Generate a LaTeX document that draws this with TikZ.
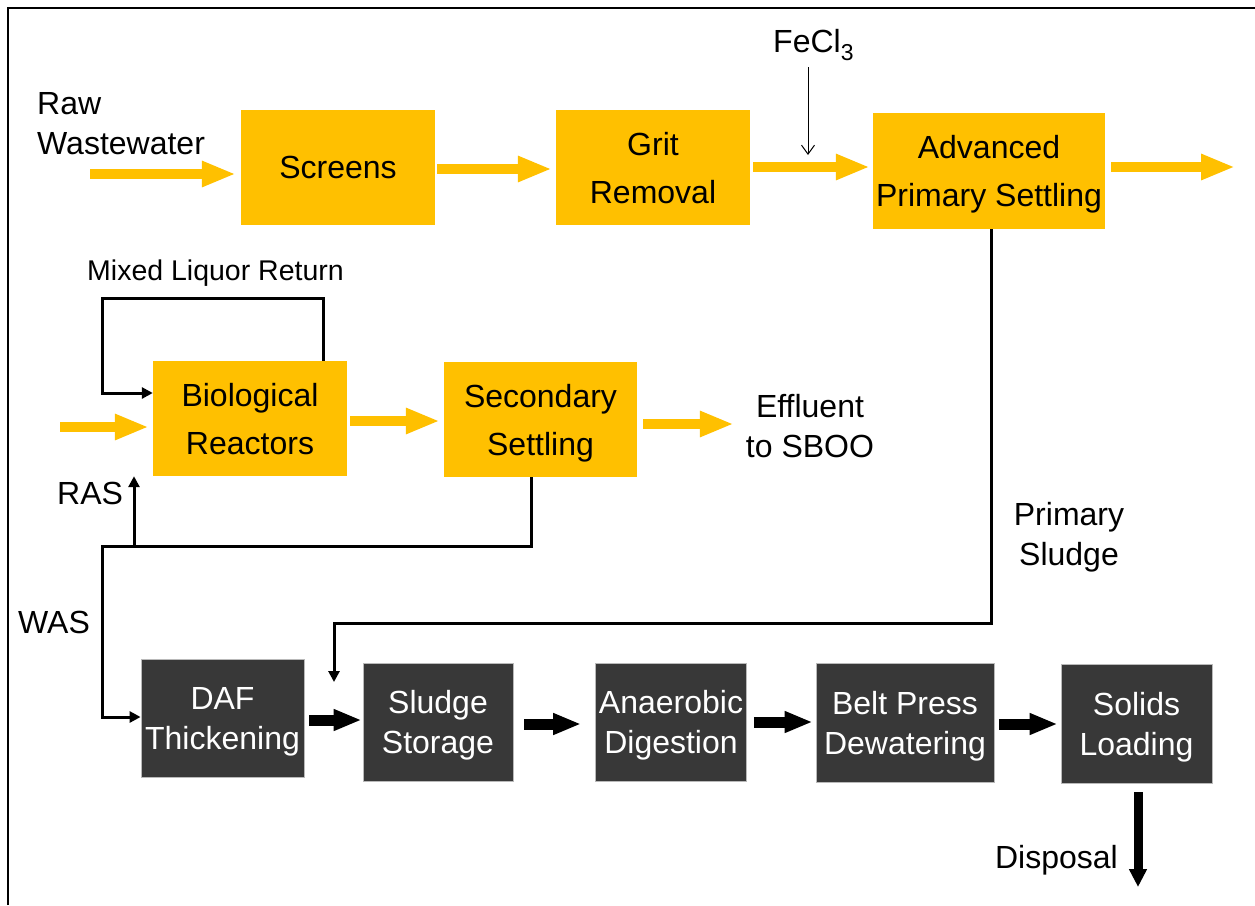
\documentclass[tikz,border=0pt]{standalone}
\usepackage{fontspec}
\setmainfont{Liberation Sans}
\usetikzlibrary{arrows.meta}
\definecolor{ygold}{HTML}{FFC000}
\definecolor{dgray}{HTML}{383838}
\begin{document}
\begin{tikzpicture}[x=1pt,y=-1pt,font=\fontsize{32}{40}\selectfont,
  ybox/.style={fill=ygold, inner sep=0pt, align=center, text depth=0pt, font=\fontsize{32}{48}\selectfont},
  dbox/.style={fill=dgray, draw=gray!55, line width=0.8pt, text=white, inner sep=0pt, align=center, text depth=0pt},
  txt/.style={inner sep=0pt},
  yarrow/.style={draw=ygold, line width=10pt, -{Triangle[length=34pt,width=24pt]}},
  barrow/.style={draw=black, line width=11pt, -{Triangle[length=28pt,width=20pt]}},
  tline/.style={draw=black, line width=3pt, -{Triangle[length=11pt,width=11pt]}},
  thinarrow/.style={draw=black, line width=1pt, -{Straight Barb[length=9pt,width=13pt]}}
]
\useasboundingbox (0,0) rectangle (1255,905);
% frame
\draw[line width=2.8pt] (8,905) -- (8,8) -- (1255,8);

% boxes
\node[ybox, minimum width=194pt, minimum height=115pt] (scr) at (338,167.5) {Screens};
\node[ybox, minimum width=194pt, minimum height=115pt] (grit) at (653,167.5) {Grit\\Removal};
\node[ybox, minimum width=232pt, minimum height=116pt] (aps) at (989,171) {Advanced\\Primary Settling};
\node[ybox, minimum width=194pt, minimum height=115pt] (bio) at (250,418.5) {Biological\\Reactors};
\node[ybox, minimum width=193pt, minimum height=115pt] (sec) at (540.5,419.5) {Secondary\\Settling};

\node[dbox, minimum width=163pt, minimum height=118pt] (daf) at (222.5,718) {DAF\\Thickening};
\node[dbox, minimum width=150pt, minimum height=118pt] (ss) at (438,722) {Sludge\\Storage};
\node[dbox, minimum width=151pt, minimum height=118pt] (ad) at (671,722) {Anaerobic\\Digestion};
\node[dbox, minimum width=178pt, minimum height=119pt] (bp) at (905,722.5) {Belt Press\\Dewatering};
\node[dbox, minimum width=151pt, minimum height=119pt] (sl) at (1136.5,723.5) {Solids\\Loading};

% labels
\node[txt, align=left, anchor=west] (raw) at (37,123.5) {Raw\\Wastewater};
\node[txt, anchor=base west, font=\fontsize{28.5}{34}\selectfont] (mlr) at (87,280) {Mixed Liquor Return};
\node[txt, anchor=base west] (fecl) at (773,52) {FeCl\raisebox{-8pt}{\fontsize{23}{23}\selectfont 3}};
\node[txt, align=center] (eff) at (810,426) {Effluent\\to SBOO};
\node[txt, align=center] (psl) at (1069,537) {Primary\\Sludge};
\node[txt, anchor=base west] (ras) at (57,504) {RAS};
\node[txt, anchor=base west] (was) at (18,633) {WAS};
\node[txt, anchor=base east] (disp) at (1118,868) {Disposal};

% coordinates
\coordinate (rawin) at (90,174);
\coordinate (apsout) at (1235,167);
\coordinate (bioin) at (60,427);
\coordinate (fetop) at (808,67);
\coordinate (fetip) at (808,155);
\coordinate (mlr1) at (323,298);
\coordinate (mlr2) at (102,298);
\coordinate (mlr3) at (102,393);
\coordinate (ret) at (531,546);
\coordinate (wasc) at (102,546);
\coordinate (was2) at (102,717);
\coordinate (rasc) at (134,546);
\coordinate (ps1) at (991,623);
\coordinate (ps2) at (334,623);
\coordinate (ps3) at (334,682);
\coordinate (dispend) at (1138,887);

% yellow flow arrows
\draw[yarrow, shorten >=5pt] (rawin) -- (rawin -| scr.west);
\draw[yarrow, shorten <=2pt, shorten >=4pt] (scr.east |- 0,169) -- (grit.west |- 0,169);
\draw[yarrow, shorten <=3pt, shorten >=3pt] (grit.east |- 0,167) -- (aps.west |- 0,167);
\draw[yarrow, shorten <=6pt] (aps.east |- apsout) -- (apsout);
\draw[yarrow, shorten >=4pt] (bioin) -- (bioin -| bio.west);
\draw[yarrow, shorten <=3pt, shorten >=4pt] (bio.east |- 0,421) -- (sec.west |- 0,421);
\draw[yarrow, shorten <=6pt, shorten >=12pt] (sec.east |- 0,424) -- (eff.west |- 0,424);

% FeCl3 dosing
\draw[thinarrow] (fetop) -- (fetip);

% black sludge arrows
\draw[barrow, shorten <=5pt, shorten >=1pt] (daf.east |- 0,720) -- (ss.west |- 0,720);
\draw[barrow, shorten <=11pt, shorten >=14pt] (ss.east |- 0,724) -- (ad.west |- 0,724);
\draw[barrow, shorten <=7pt, shorten >=3pt] (ad.east |- 0,722) -- (bp.west |- 0,722);
\draw[barrow, shorten <=5pt, shorten >=3pt] (bp.east |- 0,724) -- (sl.west |- 0,724);
\draw[draw=black, line width=9pt, -{Triangle[length=18pt,width=17pt]}, shorten <=9pt] (sl.south -| dispend) -- (dispend);

% return lines
\draw[tline] (bio.north -| mlr1) -- (mlr1) -- (mlr2) -- (mlr3) -- (mlr3 -| bio.west);
\draw[tline] (sec.south -| ret) -- (ret) -- (wasc) -- (was2) -- (was2 -| daf.west);
\draw[tline] (rasc) -- (rasc |- bio.south);
\draw[tline] (aps.south -| ps1) -- (ps1) -- (ps2) -- (ps3);
\end{tikzpicture}
\end{document}
